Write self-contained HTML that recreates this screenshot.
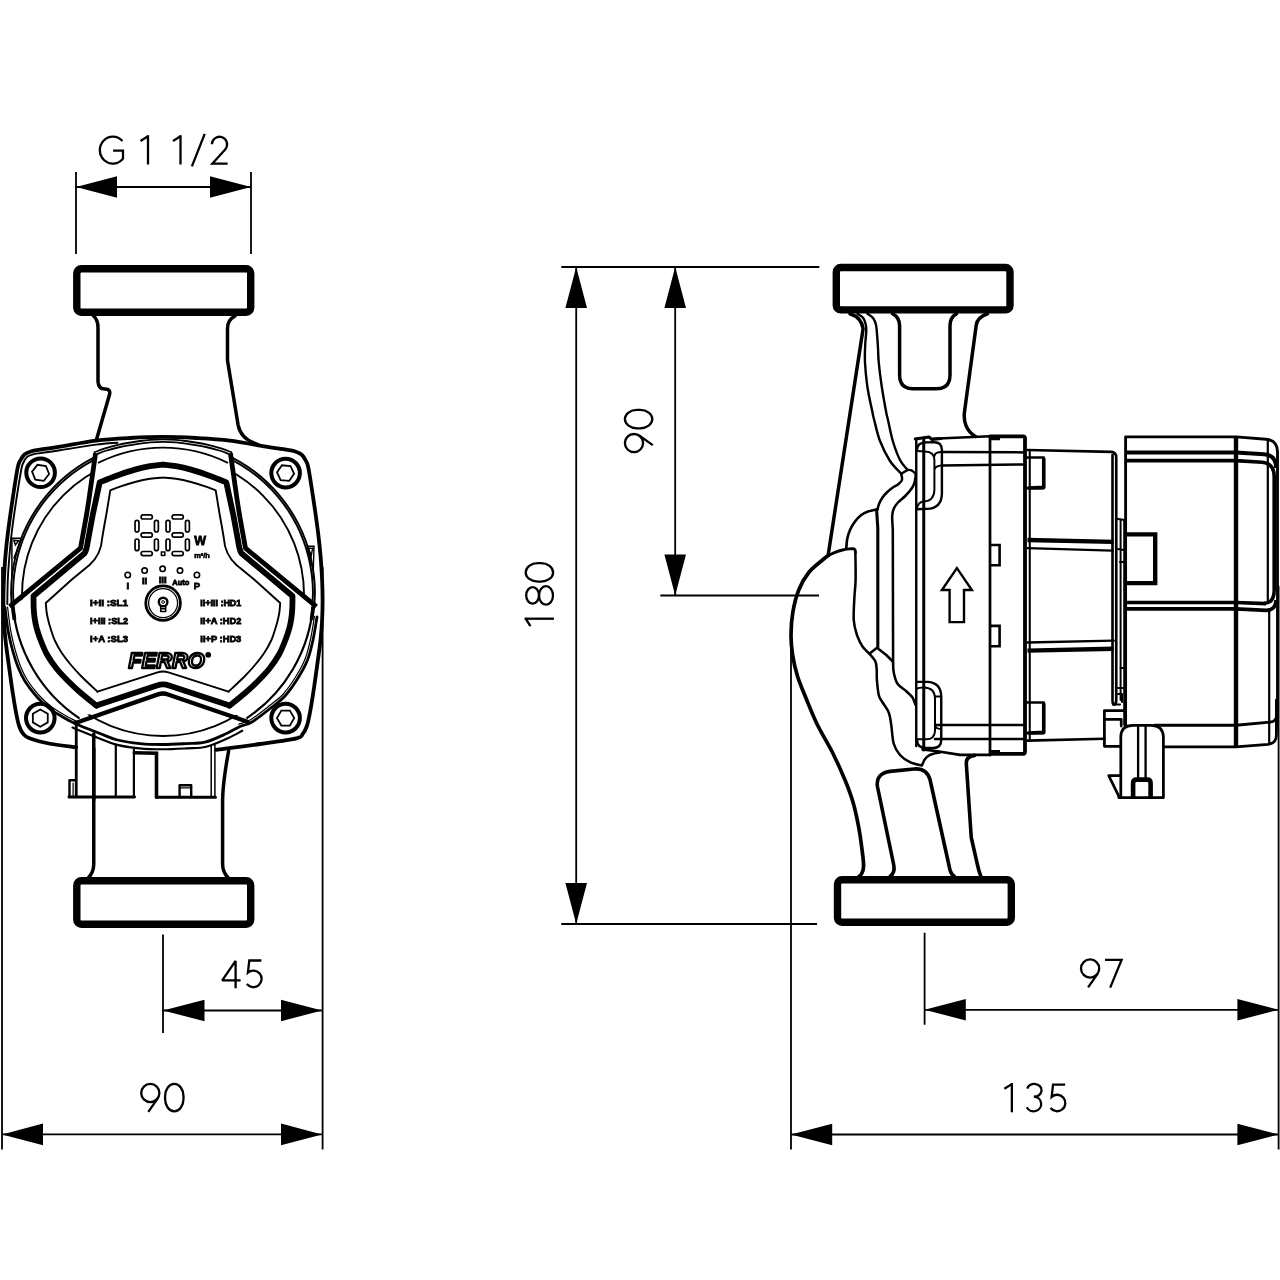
<!DOCTYPE html>
<html>
<head>
<meta charset="utf-8">
<title>Pump dimensions</title>
<style>
html,body{margin:0;padding:0;background:#fff;}
body{width:1280px;height:1280px;overflow:hidden;font-family:"Liberation Sans",sans-serif;}
svg{display:block;position:absolute;left:0;top:0;will-change:transform;}
.d{stroke:#000;stroke-width:1.8;fill:none;}
.t{stroke:#000;stroke-width:2.3;fill:none;stroke-linecap:butt;stroke-linejoin:miter;}
.k{stroke:#000;stroke-width:3.5;fill:none;stroke-linejoin:round;stroke-linecap:round;}
.m{stroke:#000;stroke-width:2.2;fill:none;stroke-linejoin:round;stroke-linecap:round;}
.n{stroke:#000;stroke-width:1.5;fill:none;stroke-linejoin:round;stroke-linecap:round;}
.f{stroke:#000;stroke-width:7.4;fill:#fff;}
.a{fill:#000;stroke:none;}
</style>
</head>
<body>
<svg width="1280" height="1280" viewBox="0 0 1280 1280">
<defs>
<!-- stroked glyphs: origin = left outer edge, baseline y=0 -->
<g id="g0"><rect x="1.1" y="-27.3" width="18.4" height="27.4" rx="9.2" ry="12.2"/></g>
<g id="g9"><circle cx="10.3" cy="-18.2" r="9.1"/><path d="M8.3,0.6 L18.1,-13.4"/></g>
<g id="g4"><path d="M15,1 L15,-26.4 L1.6,-7 L20,-7" stroke-linejoin="bevel"/></g>
<g id="g5"><path d="M15.8,-26.8 L3.7,-26.8 L2.3,-14.6 A8.25,8.25 0 1 1 1.2,-3.4"/></g>
<g id="g1"><path d="M0.6,-22.6 L8.1,-27.3"/><path d="M8.1,-28.4 L8.1,0.9"/></g>
<g id="g8"><ellipse cx="10.5" cy="-20.4" rx="8.3" ry="6.4"/><ellipse cx="10.5" cy="-7" rx="9.3" ry="7"/></g>
<g id="g3"><path d="M1.6,-22.8 A7.3,6.4 0 1 1 8.2,-14.7 A7.6,7.3 0 1 1 1.1,-4.2"/></g>
<g id="g7"><path d="M0,-26.8 L16.6,-26.8 L5.2,0.9"/></g>
<g id="g2"><path d="M1.9,-19.3 A7.6,7.6 0 1 1 15.2,-14.2 L2.4,0 L17.6,0"/></g>
<g id="gs"><path d="M13.6,-29.7 L0.8,2.8"/></g>
<g id="gG"><path d="M23.9,-22.6 A13,13.5 0 1 0 24.5,-5 L24.5,-13 L14.6,-13"/></g>
</defs>

<!-- ================= FRONT VIEW ================= -->
<g id="front">
<rect class="f" x="76.8" y="268.8" width="173.9" height="43.4" rx="4.5" ry="4.5"/>
<rect class="f" x="76.8" y="880.8" width="173.9" height="43.4" rx="4.5" ry="4.5"/>
<path class="k" d="M93.5,316 C96.5,318.5 98,322 98,327.5 L98,380.5 C98,386.5 100.5,389 105,389 C109.5,389 110.5,391.5 109.4,395 L95.8,442"/>
<path class="k" d="M235,316 C230,318.5 227.5,322.5 227.5,328.5 L227.5,360.5 L238.1,425 C240,435 246,441 258,444.6"/>
<path class="k" d="M93.75,740 L93.75,864 C93.75,870 92,874 88.5,877.5"/>
<path class="k" d="M228.6,751 C225.5,768 222.8,785 222.6,800 L222.6,864 C222.6,870 224.5,874 228,877.5"/>
<path d="M76.2,747.2 C71.83,746.62 57.78,745.23 50,743.75 C42.22,742.27 33.97,739.96 29.5,738.3 C25.03,736.64 24.9,735.77 23.2,733.8 C21.5,731.83 20.45,729.8 19.3,726.5 C18.15,723.2 17.43,719.88 16.3,714 C15.17,708.12 13.87,700.25 12.5,691.25 C11.13,682.25 9.27,668.54 8.1,660 C6.93,651.46 6.2,646.67 5.5,640 C4.8,633.33 4.25,626.67 3.9,620 C3.55,613.33 3.4,606.67 3.4,600 C3.4,593.33 3.58,587.08 3.9,580 C4.22,572.92 4.62,565.5 5.3,557.5 C5.98,549.5 6.8,541.58 8,532 C9.2,522.42 10.92,510.58 12.5,500 C14.08,489.42 16.25,475 17.5,468.5 C18.75,462 18.83,463.33 20,461 C21.17,458.67 22.58,456.13 24.5,454.5 C26.42,452.87 28.92,452.02 31.5,451.2 C34.08,450.38 35.25,450.37 40,449.6 C44.75,448.83 50.62,448.1 60,446.6 C69.38,445.1 84.58,442.03 96.25,440.6 C107.92,439.17 118.88,438.62 130,438 C141.12,437.38 152,436.9 163,436.9 C174,436.9 184.88,437.38 196,438 C207.12,438.62 218.08,439.17 229.75,440.6 C241.42,442.03 256.62,445.1 266,446.6 C275.38,448.1 281.25,448.83 286,449.6 C290.75,450.37 291.92,450.38 294.5,451.2 C297.08,452.02 299.58,452.87 301.5,454.5 C303.42,456.13 304.83,458.67 306,461 C307.17,463.33 307.25,462 308.5,468.5 C309.75,475 311.92,489.42 313.5,500 C315.08,510.58 316.8,522.42 318,532 C319.2,541.58 320.02,549.5 320.7,557.5 C321.38,565.5 321.78,572.92 322.1,580 C322.42,587.08 322.6,593.33 322.6,600 C322.6,606.67 322.45,613.33 322.1,620 C321.75,626.67 321.2,633.33 320.5,640 C319.8,646.67 319.07,651.46 317.9,660 C316.73,668.54 314.87,682.25 313.5,691.25 C312.13,700.25 310.83,708.12 309.7,714 C308.57,719.88 307.85,723.2 306.7,726.5 C305.55,729.8 304.5,731.83 302.8,733.8 C301.1,735.77 303.63,736.6 296.5,738.3 C289.37,740 273.37,742.08 260,744 C246.63,745.92 223.58,748.83 216.3,749.8 Z" fill="#fff" stroke="none"/>
<path class="k" d="M76.2,747.2 C71.83,746.62 57.78,745.23 50,743.75 C42.22,742.27 33.97,739.96 29.5,738.3 C25.03,736.64 24.9,735.77 23.2,733.8 C21.5,731.83 20.45,729.8 19.3,726.5 C18.15,723.2 17.43,719.88 16.3,714 C15.17,708.12 13.87,700.25 12.5,691.25 C11.13,682.25 9.27,668.54 8.1,660 C6.93,651.46 6.2,646.67 5.5,640 C4.8,633.33 4.25,626.67 3.9,620 C3.55,613.33 3.4,606.67 3.4,600 C3.4,593.33 3.58,587.08 3.9,580 C4.22,572.92 4.62,565.5 5.3,557.5 C5.98,549.5 6.8,541.58 8,532 C9.2,522.42 10.92,510.58 12.5,500 C14.08,489.42 16.25,475 17.5,468.5 C18.75,462 18.83,463.33 20,461 C21.17,458.67 22.58,456.13 24.5,454.5 C26.42,452.87 28.92,452.02 31.5,451.2 C34.08,450.38 35.25,450.37 40,449.6 C44.75,448.83 50.62,448.1 60,446.6 C69.38,445.1 84.58,442.03 96.25,440.6 C107.92,439.17 118.88,438.62 130,438 C141.12,437.38 152,436.9 163,436.9 C174,436.9 184.88,437.38 196,438 C207.12,438.62 218.08,439.17 229.75,440.6 C241.42,442.03 256.62,445.1 266,446.6 C275.38,448.1 281.25,448.83 286,449.6 C290.75,450.37 291.92,450.38 294.5,451.2 C297.08,452.02 299.58,452.87 301.5,454.5 C303.42,456.13 304.83,458.67 306,461 C307.17,463.33 307.25,462 308.5,468.5 C309.75,475 311.92,489.42 313.5,500 C315.08,510.58 316.8,522.42 318,532 C319.2,541.58 320.02,549.5 320.7,557.5 C321.38,565.5 321.78,572.92 322.1,580 C322.42,587.08 322.6,593.33 322.6,600 C322.6,606.67 322.45,613.33 322.1,620 C321.75,626.67 321.2,633.33 320.5,640 C319.8,646.67 319.07,651.46 317.9,660 C316.73,668.54 314.87,682.25 313.5,691.25 C312.13,700.25 310.83,708.12 309.7,714 C308.57,719.88 307.85,723.2 306.7,726.5 C305.55,729.8 304.5,731.83 302.8,733.8 C301.1,735.77 303.63,736.6 296.5,738.3 C289.37,740 273.37,742.08 260,744 C246.63,745.92 223.58,748.83 216.3,749.8" style="stroke-width:3.8"/>
<path class="n" d="M117.5,442.7 C113.92,443.02 105.58,443.33 96,444.6 C86.42,445.87 69.33,448.88 60,450.3 C50.67,451.72 44.5,452.42 40,453.1 C35.5,453.78 35.17,453.75 33,454.4 C30.83,455.05 28.63,455.57 27,457 C25.37,458.43 24.17,460.83 23.2,463 C22.23,465.17 22.35,463.83 21.2,470 C20.05,476.17 17.87,489.67 16.3,500 C14.73,510.33 12.97,522.42 11.8,532 C10.63,541.58 9.97,549.5 9.3,557.5 C8.63,565.5 8.13,572.25 7.8,580 C7.47,587.75 7.38,600 7.3,604" style="stroke-width:1.9"/>
<circle cx="40.6" cy="472.8" r="14.3" fill="#fff" stroke="#000" stroke-width="4"/>
<path class="n" d="M49.12,474 L43.82,480.77 L35.31,479.58 L32.08,471.6 L37.38,464.83 L45.89,466.02Z" style="stroke-width:1.8;stroke-linejoin:miter"/>
<circle cx="285.6" cy="473.1" r="14.3" fill="#fff" stroke="#000" stroke-width="4"/>
<path class="n" d="M294.17,473.85 L289.23,480.89 L280.67,480.14 L277.03,472.35 L281.97,465.31 L290.53,466.06Z" style="stroke-width:1.8;stroke-linejoin:miter"/>
<circle cx="40.3" cy="718.1" r="14.3" fill="#fff" stroke="#000" stroke-width="4"/>
<path class="n" d="M47.75,722.4 L40.3,726.7 L32.85,722.4 L32.85,713.8 L40.3,709.5 L47.75,713.8Z" style="stroke-width:1.8;stroke-linejoin:miter"/>
<circle cx="285.6" cy="718.1" r="14.3" fill="#fff" stroke="#000" stroke-width="4"/>
<path class="n" d="M294.2,718.1 L289.9,725.55 L281.3,725.55 L277,718.1 L281.3,710.65 L289.9,710.65Z" style="stroke-width:1.8;stroke-linejoin:miter"/>
<path class="n" d="M15.38,619.03 A149.9,149.9 0 1 1 310.62,619.03" style="stroke-width:1.9"/>
<path class="n" d="M13.41,619.38 A151.9,151.9 0 1 1 312.59,619.38" style="stroke-width:1.9"/>
<path class="n" d="M313.03,606.13 A150.6,150.6 0 0 1 247.21,717.85" style="stroke-width:2.2"/>
<path class="n" d="M78.79,717.85 A150.6,150.6 0 0 1 12.97,606.13" style="stroke-width:2.2"/>
<circle cx="163" cy="595" r="141" class="n" style="stroke-width:1.9"/>
<path class="n" d="M5,607.5 C5.5,611.25 6.75,622.92 8,630 C9.25,637.08 10.83,643.83 12.5,650 C14.17,656.17 15.92,661.79 18,667 C20.08,672.21 21.83,676.25 25,681.25 C28.17,686.25 32.83,692.38 37,697 C41.17,701.62 45.83,705.75 50,709 C54.17,712.25 57.83,714.08 62,716.5 C66.17,718.92 68.67,720.67 75,723.5 C81.33,726.33 92.92,730.75 100,733.5 C107.08,736.25 110.83,738.32 117.5,740 C124.17,741.68 132.42,742.85 140,743.6 C147.58,744.35 155.33,744.5 163,744.5 C170.67,744.5 179,743.98 186,743.6 C193,743.22 198.33,743.83 205,742.2 C211.67,740.57 220.17,736.42 226,733.8 C231.83,731.18 235.67,728.47 240,726.5 C244.33,724.53 246.67,725.25 252,722 C257.33,718.75 266.5,711.33 272,707 C277.5,702.67 280.67,700.83 285,696 C289.33,691.17 294.25,684 298,678 C301.75,672 305,666.33 307.5,660 C310,653.67 311.42,647.17 313,640 C314.58,632.83 316.33,620.83 317,617" style="stroke-width:2.8"/>
<path class="n" d="M72.43,727.55 C76.71,729.28 90.84,735.08 98.13,737.92 C105.41,740.76 109.28,742.87 116.15,744.61 C123.01,746.34 131.5,747.57 139.31,748.35 C147.12,749.13 155.1,749.3 163,749.3 C170.9,749.3 179.48,748.76 186.69,748.35 C193.9,747.94 199.38,748.53 206.24,746.84 C213.1,745.15 221.86,740.91 227.87,738.22 C233.88,735.53 239.89,731.97 242.29,730.72" style="stroke-width:2.1"/>
<path class="n" d="M7.57,607.13 C8.06,610.82 9.28,622.3 10.5,629.28 C11.72,636.25 13.26,642.89 14.89,648.97 C16.51,655.04 18.22,660.59 20.26,665.72 C22.3,670.85 24.02,674.84 27.13,679.76 C30.25,684.69 34.84,690.72 38.94,695.27 C43.05,699.83 47.64,703.88 51.75,707.08 C55.86,710.27 59.48,712.07 63.58,714.44 C67.69,716.81 74.26,720.16 76.39,721.31" style="stroke-width:1.2"/>
<path class="n" d="M238.76,724.22 C240.73,723.48 245.33,723.01 250.58,719.82 C255.84,716.63 264.85,709.32 270.27,705.06 C275.68,700.8 278.81,699.01 283.08,694.25 C287.34,689.49 292.17,682.43 295.86,676.53 C299.54,670.62 302.74,665.04 305.19,658.8 C307.64,652.57 309.02,646.16 310.56,639.1 C312.1,632.05 313.81,620.24 314.45,616.47" style="stroke-width:1.2"/>
<path class="k" d="M76.25,725 L76.25,797 M68.9,797 L134.6,797" style="stroke-width:2.8"/>
<path class="m" d="M76,780.2 L69.5,780.2 L69.5,797" style="stroke-width:2.4"/>
<path class="n" d="M73.1,783 L73.1,796" style="stroke-width:1.2"/>
<path class="m" d="M115.8,744.5 L115.8,797 M133.9,749.5 L133.9,797"/>
<path class="k" d="M134.4,752.8 L156.5,753.2 L156.5,797.3" style="stroke-width:3.6;stroke-linejoin:miter"/>
<path class="k" d="M156.5,797.3 L215.4,797.3" style="stroke-width:3"/>
<path class="m" d="M179.6,797 L179.6,785.2 L191.2,785.2 L191.2,797" style="stroke-width:2.4"/>
<path class="n" d="M180,787.8 L191,787.8" style="stroke-width:1.2"/>
<path class="n" d="M211.2,745 L211.2,797 M214.9,745 L214.9,797" style="stroke:#000;stroke-width:1.5"/>
<path class="k" d="M93.75,734 L93.75,800"/>
<path d="M94.6,452.2 L105,448.3 L120,444.3 L140,441 L150,439.8 L163,439.3 L176,439.8 L186,441 L206,444.3 L221,448.3 L231.4,452.2 L230.4,453.2 L237,499 L239.5,515 L245.5,548.2 L316.4,606.6 L310.92,606.11 L309.94,614.44 L308.5,622.7 L306.59,630.86 L304.23,638.91 L301.41,646.8 L298.15,654.53 L294.47,662.06 L290.36,669.37 L285.85,676.43 L280.94,683.23 L275.66,689.74 L270.02,695.95 L264.04,701.82 L257.74,707.35 L251.14,712.52 L244.25,717.3 L163,692.5 L80.85,716.71 L74.05,711.91 L67.53,706.75 L61.32,701.22 L55.42,695.36 L49.86,689.18 L44.65,682.7 L39.81,675.93 L35.36,668.9 L31.32,661.64 L27.68,654.16 L24.47,646.49 L21.69,638.65 L19.36,630.67 L17.47,622.57 L16.05,614.37 L15.08,606.11 L80.5,548.2 L86.5,515 L89,499 L95.6,453.2 Z" fill="#fff" stroke="none"/>
<path class="n" d="M94.6,452.2 C96.33,451.55 100.77,449.62 105,448.3 C109.23,446.98 114.17,445.52 120,444.3 C125.83,443.08 135,441.75 140,441 C145,440.25 146.17,440.08 150,439.8 C153.83,439.52 158.67,439.3 163,439.3 C167.33,439.3 172.17,439.52 176,439.8 C179.83,440.08 181,440.25 186,441 C191,441.75 200.17,443.08 206,444.3 C211.83,445.52 216.77,446.98 221,448.3 C225.23,449.62 229.67,451.55 231.4,452.2" style="stroke-width:1.8"/>
<path class="n" d="M97.6,453.9 C98.83,453.42 101.27,452.15 105,451 C108.73,449.85 114.17,448.23 120,447 C125.83,445.77 135,444.38 140,443.6 C145,442.82 146.17,442.6 150,442.3 C153.83,442 158.67,441.8 163,441.8 C167.33,441.8 172.17,442 176,442.3 C179.83,442.6 181,442.82 186,443.6 C191,444.38 200.17,445.77 206,447 C211.83,448.23 217.27,449.85 221,451 C224.73,452.15 227.17,453.42 228.4,453.9" style="stroke-width:1.8"/>
<path class="n" d="M98.62,462.63 A145.4,145.4 0 0 1 227.38,462.63" style="stroke-width:1.8"/>
<path class="k" d="M95.6,453.2 L89,499 L86.5,515 L80.5,548.2 L9.6,606.6" style="stroke-width:4.8;stroke-linejoin:miter;stroke-linecap:butt"/>
<path class="k" d="M230.4,453.2 L237,499 L239.5,515 L245.5,548.2 L316.4,606.6" style="stroke-width:4.8;stroke-linejoin:miter;stroke-linecap:butt"/>
<path class="k" d="M163,464.6 C160.83,464.87 154.67,465.37 150,466.2 C145.33,467.03 140,468.23 135,469.6 C130,470.97 124.5,472.83 120,474.4 C115.5,475.97 111.38,477.67 108,479 C104.62,480.33 101.08,481.83 99.7,482.4 L92.7,515 L87.7,542 Q86.45,550.5 84.6,553.2 L33.5,596 C33.53,598 33.52,604.33 33.7,608 C33.88,611.67 34.12,614.67 34.6,618 C35.08,621.33 35.6,624.33 36.6,628 C37.6,631.67 38.87,635.58 40.6,640 C42.33,644.42 44.35,649.75 47,654.5 C49.65,659.25 53,664.08 56.5,668.5 C60,672.92 64.08,677.05 68,681 C71.92,684.95 75.27,688.1 80,692.2 C84.73,696.3 93.67,703.37 96.4,705.6" style="stroke-width:5.8;stroke-linejoin:round"/>
<path class="k" d="M163,464.6 C165.17,464.87 171.33,465.37 176,466.2 C180.67,467.03 186,468.23 191,469.6 C196,470.97 201.5,472.83 206,474.4 C210.5,475.97 214.62,477.67 218,479 C221.38,480.33 224.92,481.83 226.3,482.4 L233.3,515 L238.3,542 Q239.55,550.5 241.4,553.2 L292.5,596 C292.47,598 292.48,604.33 292.3,608 C292.12,611.67 291.88,614.67 291.4,618 C290.92,621.33 290.4,624.33 289.4,628 C288.4,631.67 287.13,635.58 285.4,640 C283.67,644.42 281.65,649.75 279,654.5 C276.35,659.25 273,664.08 269.5,668.5 C266,672.92 261.92,677.05 258,681 C254.08,684.95 250.73,688.1 246,692.2 C241.27,696.3 232.33,703.37 229.6,705.6" style="stroke-width:5.8;stroke-linejoin:round"/>
<path class="k" d="M96.4,705.6 L157,685.5 Q163,683.2 169,685.5 L229.6,705.6" style="stroke-width:5.8;stroke-linejoin:round"/>
<path class="n" d="M163,477.6 C160.83,477.8 154.67,478.07 150,478.8 C145.33,479.53 140,480.7 135,482 C130,483.3 124.12,485.2 120,486.6 C115.88,488 111.92,489.77 110.3,490.4 L106.25,515 L104.4,525 L102.2,538 Q101.2,554.5 89.5,565 L71.25,580 L45.8,603 C45.93,604.5 46.2,609.17 46.6,612 C47,614.83 47.53,617.25 48.2,620 C48.87,622.75 49.53,625.17 50.6,628.5 C51.67,631.83 52.78,636 54.6,640 C56.42,644 58.77,648.33 61.5,652.5 C64.23,656.67 67.67,661 71,665 C74.33,669 77.08,672.05 81.5,676.5 C85.92,680.95 94.83,689.17 97.5,691.7" style="stroke-width:1.9"/>
<path class="n" d="M163,477.6 C165.17,477.8 171.33,478.07 176,478.8 C180.67,479.53 186,480.7 191,482 C196,483.3 201.88,485.2 206,486.6 C210.12,488 214.08,489.77 215.7,490.4 L219.75,515 L221.6,525 L223.8,538 Q224.8,554.5 236.5,565 L254.75,580 L280.2,603 C280.07,604.5 279.8,609.17 279.4,612 C279,614.83 278.47,617.25 277.8,620 C277.13,622.75 276.47,625.17 275.4,628.5 C274.33,631.83 273.22,636 271.4,640 C269.58,644 267.23,648.33 264.5,652.5 C261.77,656.67 258.33,661 255,665 C251.67,669 248.92,672.05 244.5,676.5 C240.08,680.95 231.17,689.17 228.5,691.7" style="stroke-width:1.9"/>
<path class="n" d="M97.5,691.7 L157.5,672.4 Q163,670.6 168.5,672.4 L228.5,691.7" style="stroke-width:1.9"/>
<path class="m" d="M75.5,723 L158,694.4 Q163,692.6 168,694.4 L247.5,721.8" style="stroke-width:4.3"/>
<rect x="141.1" y="514.8" width="11.2" height="4.2" rx="2.1" class="n" style="stroke-width:1.7"/>
<rect x="141.1" y="532.9" width="11.2" height="4.2" rx="2.1" class="n" style="stroke-width:1.7"/>
<rect x="141.1" y="551.5" width="11.2" height="4.2" rx="2.1" class="n" style="stroke-width:1.7"/>
<rect x="135.05" y="520.4" width="3.9" height="11.6" rx="1.95" class="n" style="stroke-width:1.7"/>
<rect x="135.05" y="539" width="3.9" height="11.6" rx="1.95" class="n" style="stroke-width:1.7"/>
<rect x="154.45" y="520.4" width="3.9" height="11.6" rx="1.95" class="n" style="stroke-width:1.7"/>
<rect x="154.45" y="539" width="3.9" height="11.6" rx="1.95" class="n" style="stroke-width:1.7"/>
<rect x="172.1" y="514.8" width="11.2" height="4.2" rx="2.1" class="n" style="stroke-width:1.7"/>
<rect x="172.1" y="532.9" width="11.2" height="4.2" rx="2.1" class="n" style="stroke-width:1.7"/>
<rect x="172.1" y="551.5" width="11.2" height="4.2" rx="2.1" class="n" style="stroke-width:1.7"/>
<rect x="166.05" y="520.4" width="3.9" height="11.6" rx="1.95" class="n" style="stroke-width:1.7"/>
<rect x="166.05" y="539" width="3.9" height="11.6" rx="1.95" class="n" style="stroke-width:1.7"/>
<rect x="185.45" y="520.4" width="3.9" height="11.6" rx="1.95" class="n" style="stroke-width:1.7"/>
<rect x="185.45" y="539" width="3.9" height="11.6" rx="1.95" class="n" style="stroke-width:1.7"/>
<rect x="161.4" y="552" width="3.4" height="3.4" class="n" style="stroke-width:1.5;stroke-linejoin:miter"/>
<text x="200.2" y="545" font-size="12.5" font-weight="bold" text-anchor="middle" fill="#000" stroke="#000" stroke-width="0.8">W</text>
<text x="202" y="557.6" font-size="7.2" font-weight="bold" text-anchor="middle" fill="#000" stroke="#000" stroke-width="0.6" textLength="15.5" lengthAdjust="spacingAndGlyphs">m&#179;/h</text>
<circle cx="127.75" cy="575" r="2.7" class="n" style="stroke-width:1.6"/>
<circle cx="144.6" cy="570.6" r="2.7" class="n" style="stroke-width:1.6"/>
<circle cx="162.6" cy="568.8" r="2.7" class="n" style="stroke-width:1.6"/>
<circle cx="180" cy="570.6" r="2.7" class="n" style="stroke-width:1.6"/>
<circle cx="196.9" cy="575" r="2.7" class="n" style="stroke-width:1.6"/>
<text x="127.75" y="588.6" font-size="9.5" font-weight="bold" text-anchor="middle" fill="#000" stroke="#000" stroke-width="0.8">I</text>
<text x="144.6" y="584.2" font-size="9.5" font-weight="bold" text-anchor="middle" fill="#000" stroke="#000" stroke-width="0.8">II</text>
<text x="162.6" y="583" font-size="9.5" font-weight="bold" text-anchor="middle" fill="#000" stroke="#000" stroke-width="0.8">III</text>
<text x="180.8" y="585" font-size="7.5" font-weight="bold" text-anchor="middle" fill="#000" stroke="#000" stroke-width="0.8">Auto</text>
<text x="197" y="588.8" font-size="9.5" font-weight="bold" text-anchor="middle" fill="#000" stroke="#000" stroke-width="0.8">P</text>
<text x="90" y="606.4" font-size="9.2" font-weight="bold" fill="#000" stroke="#000" stroke-width="0.8" textLength="38" lengthAdjust="spacingAndGlyphs">I+II :SL1</text>
<text x="90" y="624.3" font-size="9.2" font-weight="bold" fill="#000" stroke="#000" stroke-width="0.8" textLength="38" lengthAdjust="spacingAndGlyphs">I+III :SL2</text>
<text x="90" y="642.2" font-size="9.2" font-weight="bold" fill="#000" stroke="#000" stroke-width="0.8" textLength="38" lengthAdjust="spacingAndGlyphs">I+A :SL3</text>
<text x="200.3" y="606.4" font-size="9.2" font-weight="bold" fill="#000" stroke="#000" stroke-width="0.8" textLength="41" lengthAdjust="spacingAndGlyphs">II+III :HD1</text>
<text x="200.3" y="624.3" font-size="9.2" font-weight="bold" fill="#000" stroke="#000" stroke-width="0.8" textLength="41" lengthAdjust="spacingAndGlyphs">II+A :HD2</text>
<text x="200.3" y="642.2" font-size="9.2" font-weight="bold" fill="#000" stroke="#000" stroke-width="0.8" textLength="41" lengthAdjust="spacingAndGlyphs">II+P :HD3</text>
<circle cx="163.1" cy="603.1" r="17.3" class="n" style="stroke-width:2.8"/>
<circle cx="163.1" cy="603.1" r="14.5" class="n" style="stroke-width:1.3"/>
<circle cx="163.1" cy="602" r="4.3" class="n" style="stroke-width:2.4"/>
<circle cx="163.1" cy="602" r="1.4" class="n" style="stroke-width:1"/>
<path class="n" d="M160.7,606 L160.7,611.6 L165.7,611.6 L165.7,606 M161.5,608.8 L165,608.8" style="stroke-width:1.5"/>
<text x="128.6" y="668" font-size="22.5" font-weight="bold" font-style="italic" fill="#fff" stroke="#000" stroke-width="2.4" stroke-linejoin="round" textLength="76" lengthAdjust="spacingAndGlyphs">FERRO</text>
<circle cx="208.2" cy="654.8" r="2.9" fill="#000"/>
<path class="n" d="M11.9,538.2 L21.6,538.2 L14,558 M11.9,538.2 L11.9,575 M13.8,540.2 L18.6,540.6 L15.4,545 Z" style="stroke-width:1.5;stroke-linejoin:miter"/>
<path class="n" d="M307.2,546.3 L314,546.3 L313,580 M307.2,546.3 L311.2,566 M308.6,548.3 L312.6,548.3 L311.2,556 Z" style="stroke-width:1.4;stroke-linejoin:miter"/>
</g>
<!-- ================= SIDE VIEW ================= -->
<g id="side">
<path class="k" d="M850,313.75 C857,316 862,321 863.1,328.75 L828.1,555.6"/>
<path class="k" d="M828.1,555.6 C827.17,556.33 825.73,557.18 822.5,560 C819.27,562.82 812.71,567.5 808.75,572.5 C804.79,577.5 801.41,583.33 798.75,590 C796.09,596.67 794.09,605 792.8,612.5 C791.51,620 791.03,627.92 791,635 C790.97,642.08 791.52,648.12 792.6,655 C793.68,661.88 795.23,668.96 797.5,676.25 C799.77,683.54 802.92,690.62 806.25,698.75 C809.58,706.88 813.12,716.04 817.5,725 C821.88,733.96 827.92,743.33 832.5,752.5 C837.08,761.67 841.57,771.67 845,780 C848.43,788.33 850.81,794.58 853.1,802.5 C855.39,810.42 857.28,819.79 858.75,827.5 C860.22,835.21 861.09,842.33 861.9,848.75 C862.71,855.17 863.67,861.79 863.6,866 C863.53,870.21 862.52,872.08 861.5,874 C860.48,875.92 858.17,876.92 857.5,877.5" style="stroke-width:3.7"/>
<path class="m" d="M828.1,555.6 C829.25,555.07 832.6,553.33 835,552.4 C837.4,551.47 840.17,550.58 842.5,550 C844.83,549.42 847.22,549.12 849,548.9 C850.78,548.68 852.5,548.73 853.2,548.7 Q855.6,548.8 855.4,552.5" style="stroke-width:2.86"/>
<path class="m" d="M855.4,552.5 C855.43,557.08 855.77,572.5 855.6,580 C855.43,587.5 854.71,590.83 854.4,597.5 C854.09,604.17 853.35,613.83 853.75,620 C854.15,626.17 855.34,630.08 856.8,634.5 C858.26,638.92 860.4,643.29 862.5,646.5 C864.6,649.71 867.25,651.25 869.4,653.75 C871.55,656.25 874.18,658.79 875.4,661.5 C876.62,664.21 876.45,666.92 876.7,670 C876.95,673.08 876.56,675.83 876.9,680 C877.24,684.17 877.9,691.42 878.75,695 C879.6,698.58 880.33,698.58 882,701.5 C883.67,704.42 887.21,708.58 888.75,712.5 C890.29,716.42 890.42,719.79 891.25,725 C892.08,730.21 892.29,738.75 893.75,743.75 C895.21,748.75 897.29,751.92 900,755 C902.71,758.08 906.35,760.43 910,762.2 C913.65,763.97 919.92,765.03 921.9,765.6 L924.2,760.2 Q928,753.6 940,752.6" style="stroke-width:2.53"/>
<path class="m" d="M857.5,313.75 C858.45,314.46 861.85,316.29 863.2,318 C864.55,319.71 865.09,321.83 865.6,324 C866.11,326.17 866.32,327.5 866.25,331 C866.18,334.5 865.41,339.75 865.2,345 C864.99,350.25 864.62,355.42 865,362.5 C865.38,369.58 866.25,379.17 867.5,387.5 C868.75,395.83 871.38,407.08 872.5,412.5 C873.62,417.92 872.95,415.25 874.2,420 C875.45,424.75 877.37,434.17 880,441 C882.63,447.83 886.46,455.54 890,461 C893.54,466.46 899.38,471.62 901.25,473.75" style="stroke-width:2.42"/>
<path class="m" d="M867.5,313.75 C868.42,314.46 871.62,316.29 873,318 C874.38,319.71 875.15,321.58 875.8,324 C876.45,326.42 876.53,328.5 876.9,332.5 C877.27,336.5 877.69,343 878,348 C878.31,353 878.1,355.92 878.75,362.5 C879.4,369.08 880.65,379.17 881.9,387.5 C883.15,395.83 885.23,407.08 886.25,412.5 C887.27,417.92 886.91,415.25 888,420 C889.09,424.75 890.8,434.33 892.8,441 C894.8,447.67 897.55,455.17 900,460 C902.45,464.83 906.25,468.33 907.5,470" style="stroke-width:2.42"/>
<path class="m" d="M901.25,473.75 L907.5,470 Q912,469 916,474.5" style="stroke-width:2.42"/>
<path class="m" d="M901.25,473.75 C901.38,474.79 902.54,478.23 902,480 C901.46,481.77 899.58,483.1 898,484.4 C896.42,485.7 894.37,486.45 892.5,487.8 C890.63,489.15 888.47,490.88 886.8,492.5 C885.13,494.12 883.77,495.67 882.5,497.5 C881.23,499.33 880.03,501.52 879.2,503.5 C878.37,505.48 877.78,508.42 877.5,509.4" style="stroke-width:2.53"/>
<path class="k" d="M876.6,509.6 L877.8,528 L877.8,647.5" style="stroke-width:3.1"/>
<path class="m" d="M915.8,475 C915.6,476.17 915.23,479.83 914.6,482 C913.97,484.17 913.6,485.62 912,488 C910.4,490.38 907.33,493.83 905,496.25 C902.67,498.67 899.87,500.46 898,502.5 C896.13,504.54 894.77,506.25 893.8,508.5 C892.83,510.75 892.37,512.42 892.2,516 C892.03,519.58 892.7,527.67 892.8,530 L893.1,663.75" style="stroke-width:2.53"/>
<path class="m" d="M893.1,663.75 C893.21,665.21 893.02,669.17 893.75,672.5 C894.48,675.83 895.42,680.62 897.5,683.75 C899.58,686.88 903.75,688.96 906.25,691.25 C908.75,693.54 910.94,695.21 912.5,697.5 C914.06,699.79 915.08,703.75 915.6,705" style="stroke-width:2.53"/>
<path class="m" d="M877.5,509.4 C875.92,509.75 870.71,510.57 868,511.5 C865.29,512.43 863.42,513.33 861.25,515 C859.08,516.67 856.88,519 855,521.5 C853.12,524 851.3,527.08 850,530 C848.7,532.92 847.83,535.88 847.2,539 C846.58,542.12 846.41,547.12 846.25,548.75" style="stroke-width:2.64"/>
<path class="m" d="M869.4,653.75 L877,647.8 L886.25,655 L892.8,661.5" style="stroke-width:2.53"/>
<path class="k" d="M892.5,313.75 C897,316 899.5,320 899.6,325.5 L899.6,375 Q899.6,388.75 913,388.75 L936.5,388.75 Q950,388.75 950,375 L950,325.5 C950,320 952.5,316 956.5,313.75"/>
<path class="k" d="M987.5,313.75 C981,316 977,320 976.25,325 L964.4,412.5 C963.4,421 966,431 975.5,436.4"/>
<path class="k" d="M890,876.5 C893.4,874 894.8,870 893.75,865 L880,798.75 L877.5,787 C876,778 881,772.4 890,771.4 L914,769 C922,768.3 927.6,771.5 930,779.5 L950,870 Q951.2,874.5 954.5,876.5" style="stroke-width:3.6"/>
<path class="k" d="M974.5,755.4 C969,756.2 966,758.5 966.3,763.5 L971.25,837.5 L977.5,865 Q979,872 981,876.5" style="stroke-width:3.6"/>
<path class="m" d="M932.5,438.75 L990,436.3" style="stroke-width:2.53"/>
<path class="k" d="M990,436.3 L1023,436.3 Q1025,436.3 1025,438.3 L1025,751.8 Q1025,753.8 1023,753.8 L990.6,753.8" style="stroke-width:3.8;stroke-linejoin:round"/>
<path class="m" d="M990.6,754.8 L960,754.8 L937.5,751.25 L922.5,749.4" style="stroke-width:2.75"/>
<path class="m" d="M990,436.3 L990,755" style="stroke-width:2.75"/>
<path class="m" d="M991,438.6 L1000,438.6 M991,751.6 L1000,751.6" style="stroke-width:3.2;stroke-linecap:butt;stroke-linejoin:miter"/>
<path class="m" d="M916.25,438.75 L916.25,746" style="stroke-width:2.42"/>
<path class="m" d="M923.75,438 L923.75,750" style="stroke-width:3.0"/>
<path class="k" d="M915.2,438.9 L929,436.9 L932,439.6 L941,438.6" style="stroke-width:3.0"/>
<path class="m" d="M941.9,451.9 L1025,452.4 M941.9,465.6 L1025,464.4 M935,725 L1025,725 M935,739 L1025,739" style="stroke-width:2.53"/>
<path class="m" d="M990,545 L999.6,545 L999.6,565.25 L990,565.25 M990,625.9 L999.6,625.9 L999.6,646.25 L990,646.25" style="stroke-width:2.6;stroke-linecap:butt;stroke-linejoin:miter"/>
<path class="m" d="M956.9,568.1 L971.9,590 L964,590 L964,622.1 L949.6,622.1 L949.6,590 L941.9,590 Z" style="stroke-width:2.4;stroke-linejoin:miter"/>
<path class="m" d="M917,450 Q917,442.6 926,442.4 L934,442.2 Q941.9,442 941.9,450 L941.9,493.75 Q941.5,508.5 927,508.9 L916.25,509.3" style="stroke-width:2.42"/>
<path class="n" d="M916.6,451 L925,451.4 Q934.4,451.6 934.4,460 L934.4,490 Q934,501 924,501.4 M916.6,509 Q918,501.5 924,501.4 M934.4,456 Q935,451.8 941.9,451.9 M934.4,470 Q935,465.8 941.9,465.6" style="stroke-width:1.98"/>
<path class="m" d="M916.25,681.9 L927,681.9 Q941.25,682.4 941.25,697 L941.25,740 Q941.25,748 933,748 L926,748 Q917,747.8 917,740" style="stroke-width:2.42"/>
<path class="n" d="M916.6,689 Q918.5,687.3 924,687.4 Q934.8,687.8 935,698 L935,731 Q934.6,739.3 926,739.3 L916.6,739.3 M935,725 Q935.4,729 941.25,729 M935,696.6 L941.25,696.6" style="stroke-width:1.98"/>
<path class="m" d="M1027.5,450 L1111,451.9 Q1116.25,452.2 1116.25,457.5 L1116.25,700 Q1116.25,704.6 1114,704.6 Q1112.5,704.6 1112.5,700 L1112.5,455" style="stroke-width:2.64"/>
<path class="n" d="M1029.75,450 L1029.75,740" style="stroke-width:2.09"/>
<path class="m" d="M1027,457.5 L1043.75,457.5 L1043.75,488.1 L1027,488.1" style="stroke-width:2.64"/>
<path class="k" d="M1043.75,459 L1043.75,487.4 L1029,488" style="stroke-width:3.6"/>
<path class="m" d="M1027,702.5 L1043.75,702.5 L1043.75,733.1 L1027,733.1" style="stroke-width:2.64"/>
<path class="k" d="M1043.75,704 L1043.75,732.4 L1029,733" style="stroke-width:3.6"/>
<path class="k" d="M1027.5,540 L1113.75,541.9 M1027.5,650.6 L1113.75,648.75" style="stroke-width:4.4;stroke-linecap:butt;stroke-linejoin:miter"/>
<path class="m" d="M1027.5,548.1 L1112.5,550.6 M1027.5,642.5 L1113.75,640.6" style="stroke-width:2.42"/>
<path class="m" d="M1027.5,740.6 L1104.4,738.75" style="stroke-width:2.75"/>
<path class="m" d="M1123.75,710.6 L1104.4,710.6 L1104.4,746.25 L1120,746.25 M1105.6,719.4 L1121.25,719.4 L1121.25,726" style="stroke-width:2.75"/>
<path class="n" d="M1120.6,520 L1120.6,700 M1124.2,520 L1124.2,725" style="stroke-width:1.98"/>
<path class="n" d="M1116.25,518.75 L1125,520 M1118,549 L1125,550.2 M1120,562 L1125,562 M1120.6,668 L1125,668 M1118,688 L1125,688 M1118,694 L1122,694 L1122,702 M1113,704.4 L1120,704.4" style="stroke-width:1.98"/>
<path class="m" d="M1125.6,725 L1125.6,436.9 L1236.25,436.9 L1266,439.2 Q1277.5,440.2 1277.5,452 L1277.5,728" style="stroke-width:2.86"/>
<path class="k" d="M1236,436.9 L1236,746.9" style="stroke-width:4.4;stroke-linecap:butt;stroke-linejoin:miter"/>
<path class="k" d="M1125.6,452.5 L1236,452.5 L1264,454.2 Q1276,455 1276,468" style="stroke-width:3.9;stroke-linecap:butt"/>
<path class="k" d="M1125.6,460.6 L1236,460.6 L1262,462.3 Q1274,463.3 1274.2,476 L1274.2,590 Q1274.2,603 1264,603.4" style="stroke-width:3.6;stroke-linecap:butt"/>
<path class="n" d="M1267.8,440 L1267.8,601 M1269.2,611 L1269.2,743" style="stroke-width:2.2"/>
<path class="k" d="M1125.6,602.5 L1236,602.5 L1266,603.6 M1125.6,608.8 L1236,608.8 L1266,610.4 Q1275.6,610.6 1276,600" style="stroke-width:3.7;stroke-linecap:butt"/>
<path class="k" d="M1125.6,534.4 L1155.2,534.4 L1155.2,583.1 L1125.6,583.1" style="stroke-width:4.4;stroke-linecap:butt;stroke-linejoin:miter"/>
<path class="m" d="M1155,725.25 L1236,725.25 L1270,722.2 Q1276.6,721.6 1276.8,715" style="stroke-width:2.86"/>
<path class="m" d="M1163.75,746.9 L1236,746.9 L1268,744.3 Q1276.2,743.4 1276.4,735.5 L1276.4,700" style="stroke-width:2.8"/>
<path class="m" d="M1118.75,797.5 L1163.4,797.5 L1163.4,737 Q1163,725.4 1151,725.4 L1133,725.4 Q1121,725.4 1120.8,737 L1120.8,797.5" style="stroke-width:2.75"/>
<path class="m" d="M1138.1,725.4 L1138.1,778 M1145.6,725.4 L1145.6,778" style="stroke-width:2.31"/>
<path class="k" d="M1133.1,797.5 L1133.1,783 Q1133.1,779.6 1136.5,779.6 L1147.2,779.6 Q1150.6,779.6 1150.6,783 L1150.6,797.5" style="stroke-width:4.6;stroke-linecap:butt;stroke-linejoin:miter"/>
<path class="m" d="M1120,775.6 L1108.75,775.6 L1119.4,797.5" style="stroke-width:2.75"/>
<rect class="f" x="836.3" y="267.5" width="173.7" height="42.4" rx="4.5" ry="4.5"/>
<rect class="f" x="837.5" y="879.8" width="173.8" height="42.5" rx="4.5" ry="4.5"/>
</g>
<!-- ================= DIMENSIONS ================= -->
<g id="dims">
<!-- G 1 1/2 -->
<path class="d" d="M76,172 V254 M251,172 V254 M76,187 H251"/>
<path class="a" d="M76,187 L117,176.2 L117,197.8 Z M251,187 L210,176.2 L210,197.8 Z"/>
<g class="t" transform="translate(98.5,163.6)">
<use href="#gG"/><use href="#g1" x="41.4"/><use href="#g1" x="73.9"/><use href="#gs" x="92.6"/><use href="#g2" x="111.5"/>
</g>
<!-- 45 -->
<path class="d" d="M163,934.5 V1033 M163,1010.5 H322.4"/>
<path class="a" d="M163,1010.5 L204.5,999.7 L204.5,1021.3 Z M322,1010.5 L281,999.7 L281,1021.3 Z"/>
<g class="t" transform="translate(220.6,987.3)"><use href="#g4" style="stroke-linejoin:bevel"/><use href="#g5" x="25"/></g>
<!-- 90 bottom -->
<path class="d" d="M2,567 V1149.5 M322.6,567 V1149.5 M2,1134.4 H322"/>
<path class="a" d="M2,1134.4 L43,1123.6 L43,1145.2 Z M322,1134.4 L281,1123.6 L281,1145.2 Z"/>
<g class="t" transform="translate(140,1111.2)"><use href="#g9"/><use href="#g0" x="24"/></g>
<!-- 180 / 90 vertical -->
<path class="d" d="M561.3,267 H819.3 M561.3,924 H817 M660.3,595.5 H819 M576.2,267 V924 M675.2,267 V595.5"/>
<path class="a" d="M576.2,267 L565.4,308 L587,308 Z M576.2,924 L565.4,883 L587,883 Z M675.2,267 L664.4,308 L686,308 Z M675.2,595.5 L664.4,554.5 L686,554.5 Z"/>
<g class="t" transform="translate(553,626.8) rotate(-90)"><use href="#g1"/><use href="#g8" x="20.9"/><use href="#g0" x="44.1"/></g>
<g class="t" transform="translate(652.2,453.4) rotate(-90)"><use href="#g9"/><use href="#g0" x="24"/></g>
<!-- 97 -->
<path class="d" d="M924.6,932.7 V1024.7 M924.6,1009.8 H1278.6"/>
<path class="a" d="M924.6,1009.8 L965.8,999 L965.8,1020.6 Z M1278.6,1009.8 L1237.4,999 L1237.4,1020.6 Z"/>
<g class="t" transform="translate(1079.8,986.7)"><use href="#g9"/><use href="#g7" x="25.2"/></g>
<!-- 135 -->
<path class="d" d="M791,646 V1149.6 M1278.6,586 V1149.6 M791,1134.5 H1278.6"/>
<path class="a" d="M791,1134.5 L832.2,1123.7 L832.2,1145.3 Z M1278.6,1134.5 L1237.4,1123.7 L1237.4,1145.3 Z"/>
<g class="t" transform="translate(1003.75,1111.4)"><use href="#g1"/><use href="#g3" x="21.9"/><use href="#g5" x="45.6"/></g>
</g>

</svg>
</body>
</html>
